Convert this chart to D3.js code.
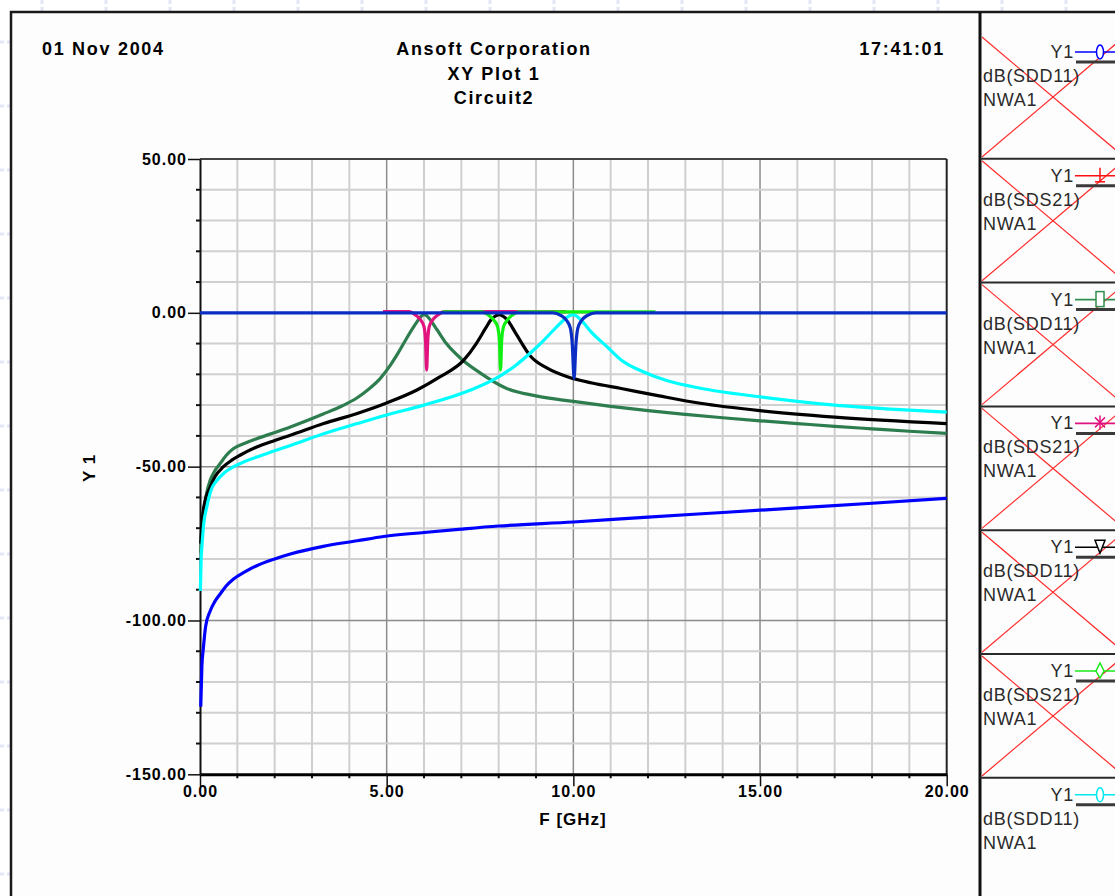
<!DOCTYPE html>
<html>
<head>
<meta charset="utf-8">
<script src="https://cdn.jsdelivr.net/npm/d3@7"></script>
<style>
  body { margin: 0; background: #fff; }
  svg text { font-family: "Liberation Sans", Arial, sans-serif; }
  .hdr { font-weight: bold; font-size: 18px; letter-spacing: 1.7px; fill: #000; }
  .ttl { font-weight: bold; font-size: 17px; letter-spacing: 1px; fill: #000; }
  .leg { font-size: 18px; letter-spacing: 0.7px; fill: #2a2a2a; }
</style>
</head>
<body>
<svg id="chart"></svg>
<script>
// header texts
var headerDate = "01 Nov 2004";
var headerTime = "17:41:01";
var headerTitle = ["Ansoft Corporation", "XY Plot 1", "Circuit2"];

// axes
var freqTicks = [0, 5, 10, 15, 20];
var dbTicks = [50, 0, -50, -100, -150];
var xTitle = "F [GHz]";
var yTitle = "Y 1";

// traces, [frequency GHz, dB]
var lowBlue = [[0.02,-128],[0.05,-115],[0.09,-109],[0.15,-102],[0.27,-97],[0.4,-93.8],[0.54,-91.4],[0.7,-88.8],[0.89,-86.6],
  [1.2,-84.2],[1.52,-82.2],[2.0,-80],[2.42,-78.4],[3.3,-75.9],[4.21,-74.1],[4.92,-72.7],[6,-71.4],[7,-70.3],[8,-69.3],
  [10,-68],[12,-66.4],[14,-64.9],[16,-63.4],[18,-61.9],[20,-60.3]];

var greenRes = [[0.02,-78],[0.05,-70],[0.09,-65.4],[0.18,-58.5],[0.27,-54.5],[0.4,-51.3],[0.54,-49],[0.7,-46.4],[0.89,-44.2],
  [1.2,-42.4],[1.52,-40.9],[2.0,-38.9],[2.42,-37.1],[3.3,-32.9],[3.8,-30.3],[4.21,-27.6],[4.5,-25],[4.83,-21.3],
  [5.1,-17],[5.3,-13.2],[5.5,-9],[5.7,-5],[5.82,-2.8],[5.92,-1.2],[6.0,-0.6],[6.08,-1],[6.17,-2.3],[6.35,-5.5],
  [6.6,-10],[7.0,-15],[7.5,-19.5],[8.2,-24.5],[9,-27],[10,-28.8],[11,-30.4],[12,-31.8],[13,-33],[14,-34.1],
  [15,-35.1],[16,-36],[17,-36.9],[18,-37.7],[19,-38.5],[20,-39.2]];

var blackRes = [[0.02,-75],[0.05,-68.5],[0.12,-62],[0.27,-56.7],[0.4,-53.3],[0.62,-50.1],[0.85,-47.9],[1.07,-46.3],
  [1.52,-43.6],[2.0,-41.5],[2.42,-39.8],[3.31,-36],[4.21,-32.7],[5.0,-29.3],[5.81,-25.1],[6.4,-21],[7.07,-15.3],
  [7.4,-10],[7.65,-5],[7.79,-2.3],[7.92,-1],[8.01,-0.6],[8.1,-1],[8.23,-2.3],[8.45,-6.5],[8.86,-14.2],[9.3,-18],
  [9.84,-20.8],[10.5,-22.8],[11.28,-24.6],[12.3,-27],[13.4,-29.4],[15,-31.8],[17,-33.9],[20,-36]];

var cyanRes = [[0.01,-90.4],[0.03,-80],[0.05,-76.2],[0.1,-68.5],[0.18,-63.2],[0.3,-57.5],[0.45,-54.5],[0.65,-52],
  [0.89,-50.1],[1.2,-48.3],[1.52,-46.9],[2.0,-44.8],[2.42,-43.1],[3.31,-39.3],[4.21,-36],[5.0,-33.2],[6.0,-30],
  [7.25,-25.1],[7.9,-21.5],[8.41,-17.5],[8.9,-12.5],[9.2,-9],[9.48,-5.5],[9.7,-2.8],[9.85,-1.3],[9.98,-0.6],
  [10.08,-1],[10.2,-2.3],[10.5,-6.5],[10.9,-11],[11.28,-15.3],[11.9,-19.3],[12.5,-22],[13.4,-24.5],[15,-27.3],
  [17,-30],[18.5,-31.3],[20,-32.3]];

var magentaNotch = [[4.9,0.4],[5.6,0.4],[5.78,-0.8],[5.92,-2.5],[6.0,-4.5],[6.04,-9],[6.07,-18.6],[6.1,-9],[6.14,-4.5],
  [6.22,-2.5],[6.36,-0.8],[6.55,0.4],[9.8,0.4]];

var limeNotch = [[6.5,0.3],[7.55,0.3],[7.73,-0.8],[7.88,-2.5],[7.97,-4.5],[8.02,-9],[8.05,-18.6],[8.08,-9],[8.13,-4.5],
  [8.22,-2.5],[8.36,-0.8],[8.55,0.3],[12.2,0.3]];

var navyNotch = [[0,0],[9.45,0],[9.66,-0.8],[9.82,-2.5],[9.92,-5],[9.97,-10],[10.02,-21.3],[10.07,-10],[10.12,-5],
  [10.22,-2.5],[10.38,-0.8],[10.6,0],[20,0]];

// legend
var legendNames = ["dB(SDD11)", "dB(SDS21)", "dB(SDD11)", "dB(SDS21)", "dB(SDD11)", "dB(SDS21)", "dB(SDD11)"];
var legendColors = ["#0000ff", "#ff1010", "#2f8f4f", "#e0127e", "#000000", "#18e818", "#00e8f0"];
var legendMarkers = ["oval", "cross", "rect", "star", "tridown", "diamond", "oval"];
var legendCrossed = [true, true, true, true, true, true, false];

var W = 1115, H = 896;

var svg = d3.select("#chart").attr("width", W).attr("height", H);

// faint page marks outside the frame
svg.append("g").selectAll("line")
  .data(d3.range(42, W, 64))
  .enter().append("line")
  .attr("x1", function (d) { return d; }).attr("x2", function (d) { return d; })
  .attr("y1", 0).attr("y2", 11)
  .attr("stroke", "#e2e6f8").attr("stroke-width", 3).attr("stroke-dasharray", "4,3");
svg.append("g").selectAll("line")
  .data(d3.range(42, H, 64))
  .enter().append("line")
  .attr("y1", function (d) { return d; }).attr("y2", function (d) { return d; })
  .attr("x1", 0).attr("x2", 10)
  .attr("stroke", "#e2e6f8").attr("stroke-width", 3).attr("stroke-dasharray", "4,3");

// outer frame
svg.append("rect")
  .attr("x", 11).attr("y", 12).attr("width", W).attr("height", H)
  .attr("fill", "#fdfdfd").attr("stroke", "#1a1a1a").attr("stroke-width", 2.5);
svg.append("line")
  .attr("x1", 980).attr("x2", 980).attr("y1", 12).attr("y2", H)
  .attr("stroke", "#111").attr("stroke-width", 3);

// header
svg.append("text").attr("class", "hdr").attr("x", 42).attr("y", 55).text(headerDate);
svg.append("text").attr("class", "hdr").attr("x", 945).attr("y", 55).attr("text-anchor", "end").text(headerTime);
svg.append("g").selectAll("text")
  .data(headerTitle)
  .enter().append("text")
  .attr("class", "hdr")
  .attr("x", 494)
  .attr("y", function (d, i) { return 55 + i * 24.5; })
  .attr("text-anchor", "middle")
  .text(function (d) { return d; });

// scales
var x = d3.scaleLinear().domain([0, 20]).range([200, 946.7]);
var y = d3.scaleLinear().domain([-150, 50]).range([774.3, 159]);

// grid
var grid = svg.append("g");
grid.selectAll("line.gx")
  .data(d3.range(1, 20))
  .enter().append("line")
  .attr("x1", function (d) { return x(d); }).attr("x2", function (d) { return x(d); })
  .attr("y1", y(50)).attr("y2", y(-150))
  .attr("stroke", function (d) { return d % 5 === 0 ? "#8c8c8c" : "#d0d0d0"; })
  .attr("stroke-width", function (d) { return d % 5 === 0 ? 1.5 : 2; });
grid.selectAll("line.gy")
  .data(d3.range(-140, 50, 10))
  .enter().append("line")
  .attr("y1", function (d) { return y(d); }).attr("y2", function (d) { return y(d); })
  .attr("x1", x(0)).attr("x2", x(20))
  .attr("stroke", function (d) { return d % 50 === 0 ? "#8c8c8c" : "#d0d0d0"; })
  .attr("stroke-width", function (d) { return d % 50 === 0 ? 1.5 : 2; });

// plot border top / right
svg.append("line").attr("x1", x(0)).attr("x2", x(20)).attr("y1", y(50)).attr("y2", y(50))
  .attr("stroke", "#444").attr("stroke-width", 2);
svg.append("line").attr("x1", x(20)).attr("x2", x(20)).attr("y1", y(50)).attr("y2", y(-150))
  .attr("stroke", "#222").attr("stroke-width", 2);

// minor ticks
svg.append("g").selectAll("line")
  .data(d3.range(-140, 50, 10).filter(function (d) { return d % 50 !== 0; }))
  .enter().append("line")
  .attr("x1", x(0) - 4).attr("x2", x(0))
  .attr("y1", function (d) { return y(d); }).attr("y2", function (d) { return y(d); })
  .attr("stroke", "#111").attr("stroke-width", 2);
svg.append("g").selectAll("line")
  .data(d3.range(1, 20).filter(function (d) { return d % 5 !== 0; }))
  .enter().append("line")
  .attr("x1", function (d) { return x(d); }).attr("x2", function (d) { return x(d); })
  .attr("y1", y(-150)).attr("y2", y(-150) + 4)
  .attr("stroke", "#111").attr("stroke-width", 2);

// axes
var fmt = function (d) { return d3.format(".2f")(d).replace("\u2212", "-"); };
var yAxis = svg.append("g")
  .attr("transform", "translate(" + x(0) + ",0)")
  .call(d3.axisLeft(y).tickValues(dbTicks).tickFormat(fmt).tickSize(12).tickSizeOuter(0).tickPadding(1));
var xAxis = svg.append("g")
  .attr("transform", "translate(0," + y(-150) + ")")
  .call(d3.axisBottom(x).tickValues(freqTicks).tickFormat(fmt).tickSize(12).tickSizeOuter(0).tickPadding(-1));

[yAxis, xAxis].forEach(function (ax) {
  ax.selectAll("text")
    .attr("font-family", "Liberation Sans, Arial, sans-serif")
    .attr("font-size", 16).attr("font-weight", "bold")
    .style("letter-spacing", "1px").attr("fill", "#000");
  ax.selectAll("line").attr("stroke", "#111").attr("stroke-width", 1.5);
});
yAxis.select(".domain").attr("stroke", "#111").attr("stroke-width", 2);
xAxis.select(".domain").attr("stroke", "#000").attr("stroke-width", 3);

svg.append("text").attr("class", "ttl").attr("x", 573).attr("y", 825)
  .attr("text-anchor", "middle").text(xTitle);
svg.append("text").attr("class", "ttl")
  .attr("transform", "translate(95,468) rotate(-90)")
  .attr("text-anchor", "middle").text(yTitle);

// traces
var line = d3.line()
  .x(function (d) { return x(d[0]); })
  .y(function (d) { return y(d[1]); })
  .curve(d3.curveMonotoneX);

var traces = [
  { data: lowBlue, color: "#0000ff" },
  { data: greenRes, color: "#2e7d4e" },
  { data: blackRes, color: "#000000" },
  { data: cyanRes, color: "#00ffff" },
  { data: magentaNotch, color: "#e2127e" },
  { data: limeNotch, color: "#10f010" },
  { data: navyNotch, color: "#0a2ec4" }
];

svg.append("g").selectAll("path")
  .data(traces)
  .enter().append("path")
  .attr("d", function (d) { return line(d.data); })
  .attr("fill", "none")
  .attr("stroke", function (d) { return d.color; })
  .attr("stroke-width", 3.2)
  .attr("stroke-linejoin", "round");

// legend panels
var panelTop = d3.range(legendNames.length).map(function (i) { return 35 + i * 123.8; });
var legend = svg.append("g");

legend.selectAll("line.sep")
  .data(panelTop.slice(1))
  .enter().append("line")
  .attr("x1", 980).attr("x2", W)
  .attr("y1", function (d) { return d; }).attr("y2", function (d) { return d; })
  .attr("stroke", "#2a2a2a").attr("stroke-width", 2);

panelTop.forEach(function (T, i) {
  var g = legend.append("g");
  var c = legendColors[i];
  if (legendCrossed[i]) {
    g.append("line").attr("x1", 982).attr("y1", T + 2).attr("x2", 1124).attr("y2", T + 122)
      .attr("stroke", "#ff2a2a").attr("stroke-width", 1.2);
    g.append("line").attr("x1", 982).attr("y1", T + 122).attr("x2", 1124).attr("y2", T + 2)
      .attr("stroke", "#ff2a2a").attr("stroke-width", 1.2);
  }
  g.append("text").attr("class", "leg").attr("x", 1074).attr("y", T + 23)
    .attr("text-anchor", "end").text("Y1");
  g.append("line").attr("x1", 1075).attr("x2", W).attr("y1", T + 17).attr("y2", T + 17)
    .attr("stroke", c).attr("stroke-width", 1.6);
  g.append("line").attr("x1", 1076).attr("x2", W).attr("y1", T + 27).attr("y2", T + 27)
    .attr("stroke", "#3a3a3a").attr("stroke-width", 3);
  var mx = 1100, my = T + 17, m = legendMarkers[i];
  if (m === "oval") {
    g.append("ellipse").attr("cx", mx).attr("cy", my).attr("rx", 3.5).attr("ry", 7)
      .attr("fill", "#fff").attr("stroke", c).attr("stroke-width", 1.5);
  } else if (m === "cross") {
    g.append("line").attr("x1", mx).attr("x2", mx).attr("y1", my - 8).attr("y2", my + 6)
      .attr("stroke", c).attr("stroke-width", 1.5);
    g.append("line").attr("x1", mx - 5).attr("x2", mx + 5).attr("y1", my + 6).attr("y2", my + 6)
      .attr("stroke", c).attr("stroke-width", 1.5);
  } else if (m === "rect") {
    g.append("rect").attr("x", mx - 4).attr("y", my - 8).attr("width", 8).attr("height", 15)
      .attr("fill", "#fff").attr("stroke", c).attr("stroke-width", 1.5);
  } else if (m === "star") {
    [[0, -8, 0, 6], [-5, -6, 5, 4], [5, -6, -5, 4]].forEach(function (s) {
      g.append("line").attr("x1", mx + s[0]).attr("y1", my + s[1]).attr("x2", mx + s[2]).attr("y2", my + s[3])
        .attr("stroke", c).attr("stroke-width", 1.5);
    });
  } else if (m === "tridown") {
    g.append("path").attr("d", "M" + (mx - 5) + "," + (my - 7) + "h10l-5,13z")
      .attr("fill", "#fff").attr("stroke", c).attr("stroke-width", 1.5);
  } else if (m === "diamond") {
    g.append("path").attr("d", "M" + mx + "," + (my - 8) + "l4,8l-4,7l-4,-7z")
      .attr("fill", "#fff").attr("stroke", c).attr("stroke-width", 1.5);
  }
  g.append("text").attr("class", "leg").attr("x", 983).attr("y", T + 47).text(legendNames[i]);
  g.append("text").attr("class", "leg").attr("x", 983).attr("y", T + 71).text("NWA1");
});
</script>
</body>
</html>
